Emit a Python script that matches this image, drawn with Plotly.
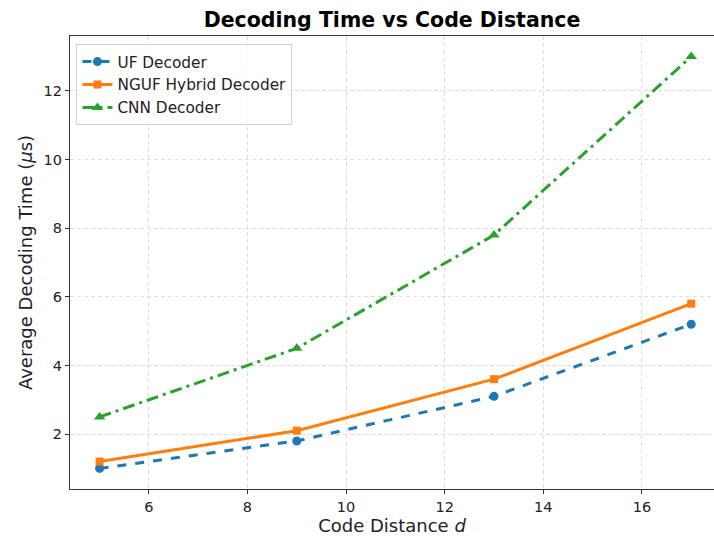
import plotly.graph_objects as go

distances = [5, 9, 13, 17]
uf_times = [1.0, 1.8, 3.1, 5.2]
nguf_times = [1.2, 2.1, 3.6, 5.8]
cnn_times = [2.5, 4.5, 7.8, 13.0]
x_ticks = [6, 8, 10, 12, 14, 16]
y_ticks = [2, 4, 6, 8, 10, 12]

FONT = "DejaVu Sans"

fig = go.Figure()
fig.add_trace(go.Scatter(x=distances, y=uf_times, name="UF Decoder", mode="lines+markers",
                         line=dict(color="#1f77b4", width=3, dash="dash"),
                         marker=dict(symbol="circle", size=9, color="#1f77b4")))
fig.add_trace(go.Scatter(x=distances, y=nguf_times, name="NGUF Hybrid Decoder", mode="lines+markers",
                         line=dict(color="#ff7f0e", width=3, dash="solid"),
                         marker=dict(symbol="square", size=8, color="#ff7f0e")))
fig.add_trace(go.Scatter(x=distances, y=cnn_times, name="CNN Decoder", mode="lines+markers",
                         line=dict(color="#2ca02c", width=3, dash="12px,5px,3px,5px"),
                         marker=dict(symbol="triangle-up", size=10, color="#2ca02c")))

fig.update_layout(
    width=714, height=538,
    margin=dict(l=70, r=0, t=35.5, b=48.7),
    paper_bgcolor="white", plot_bgcolor="white",
    font=dict(family=FONT, color="#222222"),
    title=dict(text="<b>Decoding Time vs Code Distance</b>", x=(70 + 714) / 2 / 714, xanchor="center",
               y=1 - 20 / 538, yanchor="middle", font=dict(size=20.5, color="black", family=FONT)),
    legend=dict(x=0.01, y=0.982, xanchor="left", yanchor="top",
                bgcolor="rgba(255,255,255,0.8)", bordercolor="#d0d0d0", borderwidth=1,
                font=dict(size=15.3, color="#222222", family=FONT), tracegroupgap=0),
    showlegend=True,
)
fig.update_xaxes(range=[4.4, 4.4 + 644 / 49.3], tickvals=x_ticks, ticks="outside", ticklen=4,
                 tickcolor="#333333", tickfont=dict(size=14.5, color="#222222"),
                 showline=True, linecolor="#333333", linewidth=1.2, mirror=True,
                 showgrid=True, gridcolor="#dddddd", griddash="4px,3px", gridwidth=1, zeroline=False,
                 title=dict(text="Code Distance <i>d</i>", font=dict(size=18, color="#222222"), standoff=5))
fig.update_yaxes(range=[0.4, 13.6], tickvals=y_ticks, ticks="outside", ticklen=4,
                 tickcolor="#333333", tickfont=dict(size=14.5, color="#222222"),
                 showline=True, linecolor="#333333", linewidth=1.2, mirror=False,
                 showgrid=True, gridcolor="#dddddd", griddash="4px,3px", gridwidth=1, zeroline=False,
                 title=dict(text="Average Decoding Time (<i>μ</i>s)", font=dict(size=18, color="#222222"), standoff=6))

fig.write_html("out.html")
